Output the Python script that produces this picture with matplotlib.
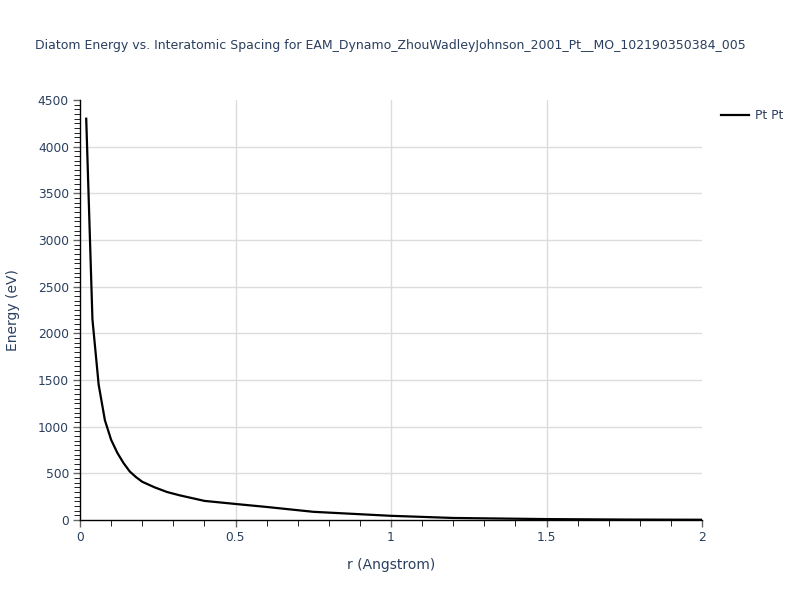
import numpy as np
import matplotlib.pyplot as plt
from matplotlib.ticker import MultipleLocator

# values
r = [0.02, 0.04, 0.06, 0.08, 0.10, 0.12, 0.14, 0.16, 0.18, 0.20, 0.24,
     0.28, 0.32, 0.36, 0.40, 0.50, 0.60, 0.75, 1.00, 1.20, 1.50, 1.75, 2.00]
energy = [4300, 2150, 1450, 1070, 860, 720, 610, 520, 460, 410, 350,
          300, 265, 235, 205, 172, 140, 88, 45, 22, 10, 5, 3]
series_name = 'Pt Pt'
title = 'Diatom Energy vs. Interatomic Spacing for EAM_Dynamo_ZhouWadleyJohnson_2001_Pt__MO_102190350384_005'

txt = '#2a3f5f'
plt.rcParams['font.family'] = ['DejaVu Sans']

fig = plt.figure(figsize=(8, 6), dpi=100)
ax = fig.add_axes([0.1, 0.1333, 0.7775, 0.7])

ax.plot(r, energy, color='black', linewidth=1.6, label=series_name)

ax.set_xlim(0, 2)
ax.set_ylim(0, 4500)
ax.xaxis.set_minor_locator(MultipleLocator(0.1))
ax.yaxis.set_major_locator(MultipleLocator(500))
ax.yaxis.set_minor_locator(MultipleLocator(50))
ax.set_xticks([0, 0.5, 1, 1.5, 2])
ax.set_xticklabels(['0', '0.5', '1', '1.5', '2'])

ax.tick_params(which='major', direction='out', length=5, width=1, color='#666666',
               labelsize=8.8, labelcolor=txt, pad=3)
ax.tick_params(which='minor', direction='out', length=4, width=0.7, color='#222222')

for side in ['top', 'right']:
    ax.spines[side].set_visible(False)
for side in ['left', 'bottom']:
    ax.spines[side].set_color('black')
    ax.spines[side].set_linewidth(1)

# grid lines, skipping the ones at the plot edges
for x in [0.5, 1.0, 1.5]:
    ax.axvline(x, color='#dcdcdc', linewidth=1, zorder=0)
for y in range(500, 4500, 500):
    ax.axhline(y, color='#dcdcdc', linewidth=1, zorder=0)

ax.set_xlabel('r (Angstrom)', fontsize=10, color=txt, labelpad=10)
ax.set_ylabel('Energy (eV)', fontsize=10, color=txt, labelpad=13)

fig.text(0.4875, 1 - 46 / 600, title, ha='center', va='center', fontsize=9.0, color=txt)

ax.legend(loc='upper left', bbox_to_anchor=(0.895, 0.826), bbox_transform=fig.transFigure,
          frameon=False, fontsize=8.8, labelcolor=txt, handlelength=2.3, handletextpad=0.5,
          borderaxespad=0)

fig.savefig('out.png', dpi=100)
